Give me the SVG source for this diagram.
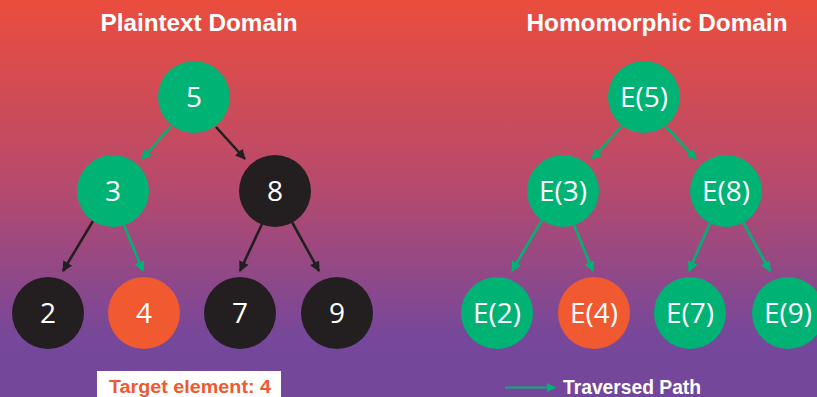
<svg xmlns="http://www.w3.org/2000/svg" width="817" height="397" viewBox="0 0 817 397">
<defs>
<linearGradient id="bg" x1="0" y1="0" x2="0" y2="1">
<stop offset="0" stop-color="#EB4D3D"/>
<stop offset="0.45" stop-color="#B94A6B"/>
<stop offset="0.85" stop-color="#76479A"/>
<stop offset="1" stop-color="#74479B"/>
</linearGradient>
<marker id="ag" viewBox="0 0 10 10" refX="9" refY="5" markerWidth="4" markerHeight="4" orient="auto" markerUnits="strokeWidth"><path d="M0,0 L10,5 L0,10 z" fill="#00B274"/></marker>
<marker id="ab" viewBox="0 0 10 10" refX="9" refY="5" markerWidth="4" markerHeight="4" orient="auto" markerUnits="strokeWidth"><path d="M0,0 L10,5 L0,10 z" fill="#231F20"/></marker>
</defs>
<style>
.g{fill:#00B274}.k{fill:#231F20}.o{fill:#F15A30}
.lbl{font-family:"Open Sans","Liberation Sans",sans-serif;font-size:28px;fill:#fff;text-anchor:middle}
.ttl{font-family:"Liberation Sans",sans-serif;font-weight:bold;font-size:23px;fill:#fff;text-anchor:middle}
.eg{stroke:#00B274;stroke-width:2.6;fill:none;marker-end:url(#ag)}
.eb{stroke:#231F20;stroke-width:2.6;fill:none;marker-end:url(#ab)}
</style>
<rect width="817" height="397" fill="url(#bg)"/>
<text class="ttl" x="199" y="31" textLength="197" lengthAdjust="spacingAndGlyphs">Plaintext Domain</text>
<text class="ttl" x="657" y="31" textLength="261" lengthAdjust="spacingAndGlyphs">Homomorphic Domain</text>
<g id="connectors">
<line class="eg" x1="171" y1="126" x2="142" y2="159"/>
<line class="eb" x1="216" y1="127" x2="245" y2="159"/>
<line class="eb" x1="93" y1="221" x2="63" y2="271"/>
<line class="eg" x1="124" y1="225" x2="143" y2="271"/>
<line class="eb" x1="262" y1="224" x2="240" y2="271"/>
<line class="eb" x1="292" y1="222" x2="319" y2="271"/>
<line class="eg" x1="622" y1="126" x2="592" y2="159"/>
<line class="eg" x1="666" y1="127" x2="696" y2="159"/>
<line class="eg" x1="542" y1="220" x2="512" y2="271"/>
<line class="eg" x1="574" y1="225" x2="593" y2="271"/>
<line class="eg" x1="710" y1="223" x2="689" y2="271"/>
<line class="eg" x1="743" y1="222" x2="770" y2="271"/>
<line class="eg" x1="505" y1="387.5" x2="555" y2="387.5" style="stroke-width:2.2"/>
</g>
<g id="n5"><circle class="g" cx="194" cy="97" r="36"/><text class="lbl" x="194" y="107">5</text></g>
<g id="n3"><circle class="g" cx="113" cy="191" r="36"/><text class="lbl" x="113" y="201">3</text></g>
<g id="n8"><circle class="k" cx="275" cy="191" r="36"/><text class="lbl" x="275" y="201">8</text></g>
<g id="n2"><circle class="k" cx="48" cy="313" r="36"/><text class="lbl" x="48" y="323">2</text></g>
<g id="n4"><circle class="o" cx="144" cy="313" r="36"/><text class="lbl" x="144" y="323">4</text></g>
<g id="n7"><circle class="k" cx="240" cy="313" r="36"/><text class="lbl" x="240" y="323">7</text></g>
<g id="n9"><circle class="k" cx="337" cy="313" r="36"/><text class="lbl" x="337" y="323">9</text></g>
<g id="e5"><circle class="g" cx="644" cy="97" r="36"/><text class="lbl" x="644" y="107">E(5)</text></g>
<g id="e3"><circle class="g" cx="563" cy="191" r="36"/><text class="lbl" x="563" y="201">E(3)</text></g>
<g id="e8"><circle class="g" cx="726" cy="191" r="36"/><text class="lbl" x="726" y="201">E(8)</text></g>
<g id="e2"><circle class="g" cx="497" cy="313" r="36"/><text class="lbl" x="497" y="323">E(2)</text></g>
<g id="e4"><circle class="o" cx="594" cy="313" r="36"/><text class="lbl" x="594" y="323">E(4)</text></g>
<g id="e7"><circle class="g" cx="690" cy="313" r="36"/><text class="lbl" x="690" y="323">E(7)</text></g>
<g id="e9"><circle class="g" cx="788" cy="313" r="36"/><text class="lbl" x="788" y="323">E(9)</text></g>
<g id="target">
<rect x="97" y="371" width="184" height="30" fill="#fff"/>
<text x="190" y="393" text-anchor="middle" font-family="Liberation Sans, sans-serif" font-weight="bold" font-size="18" fill="#F15A30" textLength="162" lengthAdjust="spacingAndGlyphs">Target element: 4</text>
</g>
<g id="legend">
<text x="563" y="393.5" font-family="Liberation Sans, sans-serif" font-weight="bold" font-size="19.5" fill="#fff" textLength="138" lengthAdjust="spacingAndGlyphs">Traversed Path</text>
</g>
</svg>
